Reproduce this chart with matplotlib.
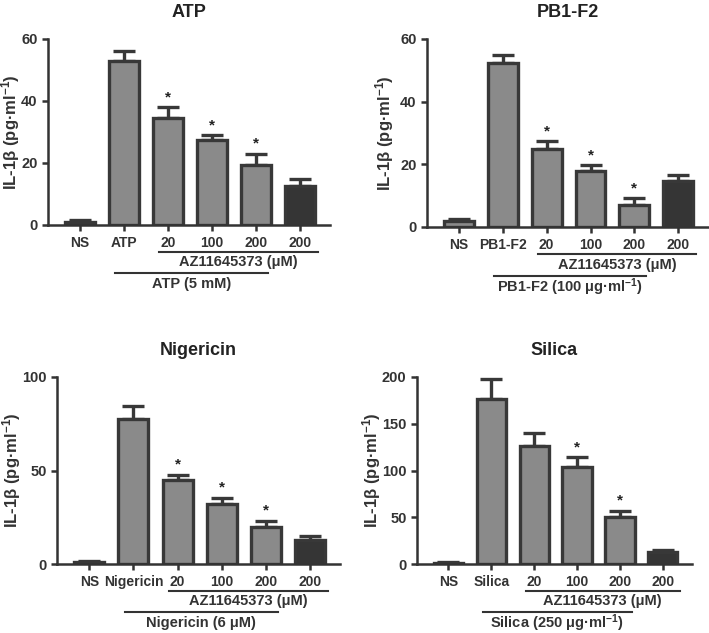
import numpy as np
import matplotlib
matplotlib.use("Agg")
import matplotlib.pyplot as plt
import matplotlib.transforms as mtransforms

plt.rcParams['font.family'] = ['Liberation Sans', 'DejaVu Sans']
plt.rcParams['font.weight'] = 'bold'
plt.rcParams['mathtext.fontset'] = 'custom'
plt.rcParams['mathtext.bf'] = 'Liberation Sans:bold'
plt.rcParams['mathtext.rm'] = 'Liberation Sans:bold'
plt.rcParams['mathtext.default'] = 'bf'

# data
titles = ["ATP", "PB1-F2", "Nigericin", "Silica"]
stim_labels = ["ATP", "PB1-F2", "Nigericin", "Silica"]
stim_notes = ["ATP (5 mM)", r"PB1-F2 (100 μg·ml$^{-1}$)", "Nigericin (6 μM)",
              r"Silica (250 μg·ml$^{-1}$)"]
doses = ["20", "100", "200", "200"]

atp_mean = [1.0, 53.0, 34.5, 27.3, 19.5, 12.6]
atp_err = [0.6, 3.2, 3.5, 1.6, 3.5, 2.2]
pb1_mean = [1.8, 52.5, 25.0, 18.0, 7.0, 14.6]
pb1_err = [0.6, 2.4, 2.3, 1.7, 2.3, 1.9]
nig_mean = [1.0, 77.5, 44.8, 32.0, 20.0, 12.8]
nig_err = [0.7, 7.0, 3.0, 3.5, 3.2, 2.0]
sil_mean = [1.5, 176.0, 126.0, 104.0, 50.0, 13.0]
sil_err = [0.5, 22.0, 14.0, 10.0, 7.0, 2.0]

means = [atp_mean, pb1_mean, nig_mean, sil_mean]
errs = [atp_err, pb1_err, nig_err, sil_err]
stars = [[2, 3, 4], [2, 3, 4], [2, 3, 4], [3, 4]]
ymax = [60, 60, 100, 200]
yticks = [[0, 20, 40, 60], [0, 20, 40, 60], [0, 50, 100], [0, 50, 100, 150, 200]]

# axes boxes in pixels: left, right, top, bottom
boxes = [(48, 330, 39, 225), (427, 708, 39, 227),
         (57, 340, 377, 564), (417, 692, 377, 564)]
ylab_x = [-0.092, -0.11, -0.12, -0.123]

W, H = 709, 633
fig = plt.figure(figsize=(W / 100, H / 100), dpi=100)

grey = "#8a8a8a"
dark = "#353535"
edge = "#383838"

for i in range(4):
    l, r, t, b = boxes[i]
    ax = fig.add_axes([l / W, 1 - b / H, (r - l) / W, (b - t) / H])
    x = np.arange(6)
    colors = [grey] * 5 + [dark]
    ax.bar(x, means[i], width=0.68, color=colors, edgecolor=edge, linewidth=2.4, zorder=2)
    ax.errorbar(x, means[i], yerr=[np.zeros(6), errs[i]], fmt="none", ecolor=edge,
                elinewidth=2.4, capsize=8, capthick=2.4, zorder=1)
    for s in stars[i]:
        ax.text(s, means[i][s] + errs[i][s] + ymax[i] * 0.015, "*", ha="center", va="bottom",
                fontsize=11, fontweight="bold", color="#222222")
    ax.set_xlim(-0.73, 5.68)
    ax.set_ylim(0, ymax[i])
    ax.set_yticks(yticks[i])
    ax.set_xticks(x)
    ax.set_xticklabels(["NS", stim_labels[i]] + doses, fontsize=10, fontweight="bold")
    ax.tick_params(axis="y", labelsize=10.5, width=1.8, length=4, colors="#333333", labelcolor="#333333")
    ax.tick_params(axis="x", width=1.8, length=4, colors="#333333", labelcolor="#333333", pad=4)
    for sp in ["top", "right"]:
        ax.spines[sp].set_visible(False)
    for sp in ["left", "bottom"]:
        ax.spines[sp].set_linewidth(1.8)
        ax.spines[sp].set_color("#333333")
    ax.set_title(titles[i], fontsize=13, fontweight="bold", pad=16, color="#222222")
    ax.set_ylabel(r"IL-1β (pg·ml$^{-1}$)", fontsize=12, fontweight="bold", color="#333333")
    ax.yaxis.set_label_coords(ylab_x[i], 0.5)

    trans = mtransforms.blended_transform_factory(ax.transData, ax.transAxes)
    ax.plot([1.8, 5.4], [-0.145, -0.145], color="#333333", lw=1.5, transform=trans, clip_on=False)
    ax.text(3.6, -0.20, "AZ11645373 (μM)", transform=trans, ha="center", va="center",
            fontsize=10.5, fontweight="bold", color="#333333")
    ax.plot([0.8, 4.27], [-0.258, -0.258], color="#333333", lw=1.5, transform=trans, clip_on=False)
    ax.text(2.53, -0.318, stim_notes[i], transform=trans, ha="center", va="center",
            fontsize=10.5, fontweight="bold", color="#333333")

fig.savefig("out.png", dpi=100)
